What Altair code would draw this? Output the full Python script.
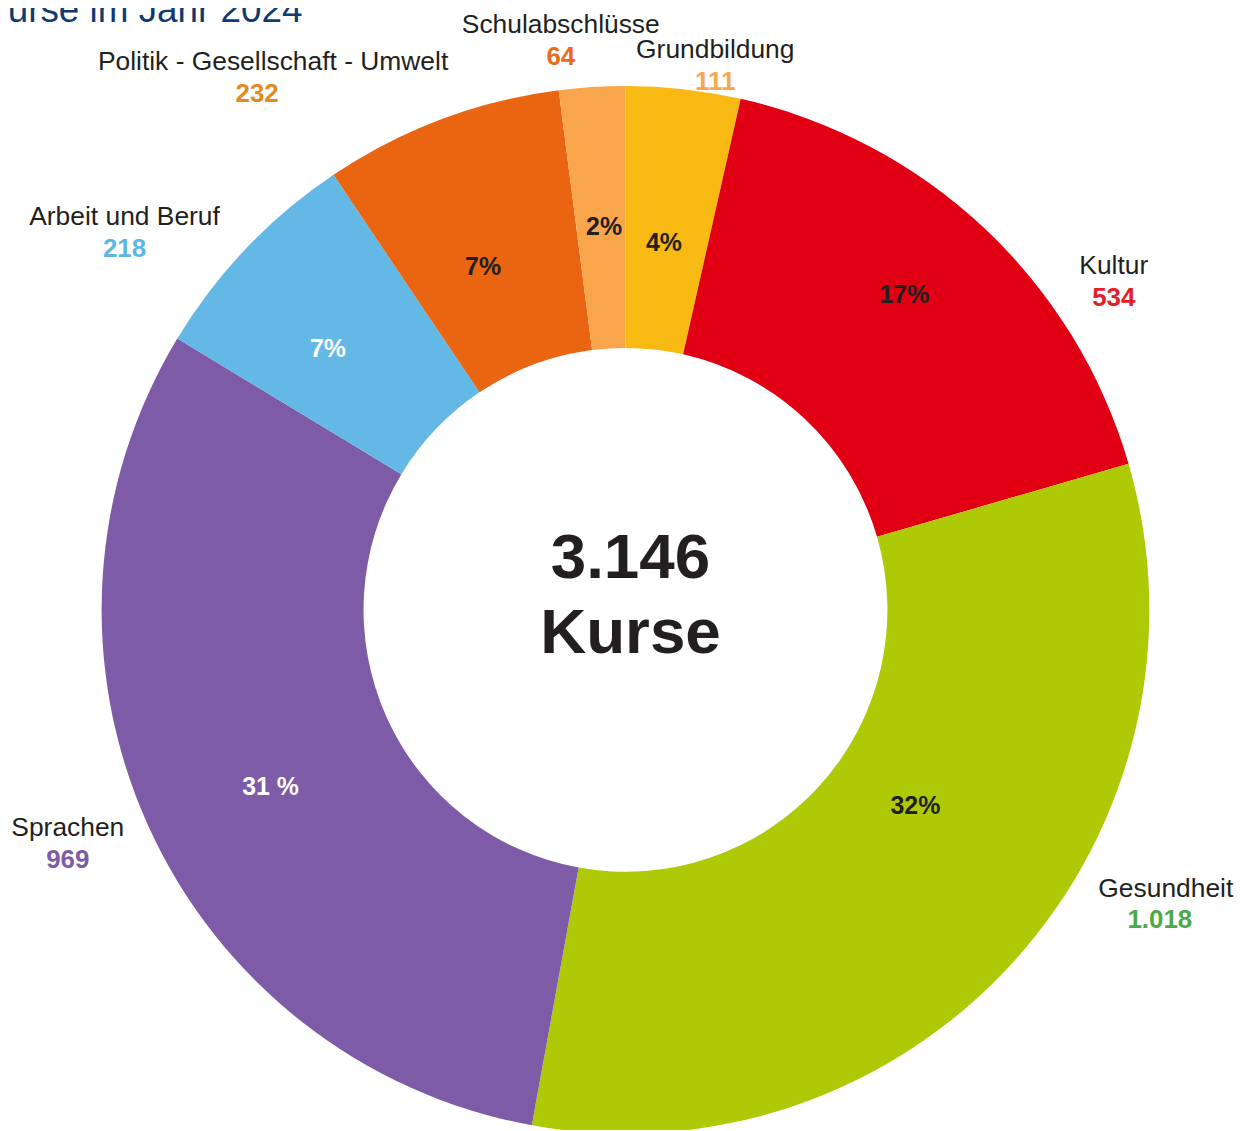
import altair as alt
import pandas as pd

# ---- data ----
CATEGORIES = ["Grundbildung", "Kultur", "Gesundheit", "Sprachen",
              "Arbeit und Beruf", "Politik - Gesellschaft - Umwelt", "Schulabschlüsse"]
COUNTS = [111, 534, 1018, 969, 218, 232, 64]
PCT_LABELS = ["4%", "17%", "32%", "31 %", "7%", "7%", "2%"]
TITLE = "Kurse im Jahr 2024"
CENTER_WORD = "Kurse"

# ---- styles ----
SLICE_COLORS = ["#F9B913", "#E10013", "#AEC905", "#7D5BA6", "#63B8E6", "#E96511", "#F9A54B"]
VALUE_COLORS = ["#F8A650", "#E3202A", "#4BA94A", "#7D5BA6", "#5EB6E4", "#E38B1E", "#EB6B1E"]
PCT_COLORS = ["#231F20", "#231F20", "#231F20", "#FFFFFF", "#FFFFFF", "#231F20", "#231F20"]

# ---- layout (label placement around the ring) ----
NAME_NUDGE = [2.75, 11.55, -14.85, 2.96, -5.46, -12.1, -2.64]   # degrees from slice mid-angle
NAME_R = [570, 600, 610, 601, 640, 655, 592]                      # px from centre
VALUE_DX = [0, 0, -6, 0, 0, -16, 0]
PCT_NUDGE = [-0.39, -1.8, -8.09, -2.17, -2.32, -1.88, 0.46]
PCT_R = [371, 423, 351, 398, 398, 374, 386]

W, H = 1100, 1040
PL, PT, PR, PB = 70, 82, 62, 0
CX, CY = W / 2, H / 2
R_OUT, R_IN = 526, 263
FONT = "Liberation Sans"

df = pd.DataFrame({
    "cat": CATEGORIES,
    "count": COUNTS,
    "order": list(range(len(CATEGORIES))),
    "pct": PCT_LABELS,
    "vcolor": VALUE_COLORS,
    "pcolor": PCT_COLORS,
    "name_nudge": NAME_NUDGE,
    "name_r": NAME_R,
    "value_dx": VALUE_DX,
    "pct_nudge": PCT_NUDGE,
    "pct_r": PCT_R,
})

total = sum(COUNTS)
total_str = f"{total:,}".replace(",", ".")

ring = alt.Chart(df).mark_arc(radius=R_OUT, radius2=R_IN).encode(
    theta=alt.Theta("count:Q", stack=True),
    color=alt.Color("cat:N", scale=alt.Scale(domain=CATEGORIES, range=SLICE_COLORS), legend=None),
    order=alt.Order("order:Q"),
)

base = alt.Chart(df).transform_joinaggregate(
    total="sum(count)"
).transform_window(
    cum="sum(count)", sort=[alt.SortField("order", order="ascending")]
).transform_calculate(
    mid="(datum.cum - datum.count / 2) / datum.total * 360",
).transform_calculate(
    na="(datum.mid + datum.name_nudge) * PI / 180",
    pa="(datum.mid + datum.pct_nudge) * PI / 180",
    vlabel="replace(format(datum.count, ','), ',', '.')",
).transform_calculate(
    lx=f"{CX} + datum.name_r * sin(datum.na)",
    ly=f"{CY} - datum.name_r * cos(datum.na)",
    px=f"{CX} + datum.pct_r * sin(datum.pa)",
    py=f"{CY} - datum.pct_r * cos(datum.pa)",
).transform_calculate(
    vx="datum.lx + datum.value_dx",
)

names = base.mark_text(font=FONT, fontSize=26.5, color="#231F20", align="center",
                       baseline="alphabetic", dy=9).encode(
    x=alt.X("lx:Q", scale=None, axis=None),
    y=alt.Y("ly:Q", scale=None, axis=None),
    text="cat:N",
)

values = base.mark_text(font=FONT, fontSize=26, fontWeight="bold", align="center",
                        baseline="alphabetic", dy=41).encode(
    x=alt.X("vx:Q", scale=None, axis=None),
    y=alt.Y("ly:Q", scale=None, axis=None),
    text="vlabel:N",
    color=alt.Color("vcolor:N", scale=None),
)

pcts = base.mark_text(font=FONT, fontSize=25, fontWeight="bold", align="center",
                      baseline="alphabetic", dy=9).encode(
    x=alt.X("px:Q", scale=None, axis=None),
    y=alt.Y("py:Q", scale=None, axis=None),
    text="pct:N",
    color=alt.Color("pcolor:N", scale=None),
)

center_df = pd.DataFrame({"line": [total_str, CENTER_WORD], "dy": [-32, 43]})
center = alt.Chart(center_df).mark_text(font=FONT, fontSize=64, fontWeight="bold",
                                        color="#231F20", align="center",
                                        baseline="alphabetic").encode(
    x=alt.value(CX + 5),
    y=alt.Y("ypos:Q", scale=None, axis=None),
    text="line:N",
).transform_calculate(ypos=f"{CY} + datum.dy")

title_df = pd.DataFrame({"t": [TITLE]})
title = alt.Chart(title_df).mark_text(font=FONT, fontSize=37, color="#0F3B6F",
                                      align="left", baseline="alphabetic").encode(
    x=alt.value(-PL - 25),
    y=alt.value(-PT + 12),
    text="t:N",
)

chart = alt.layer(ring, pcts, names, values, center, title).properties(
    width=W, height=H,
    autosize=alt.AutoSizeParams(type="none"),
    padding={"left": PL, "top": PT, "right": PR, "bottom": PB},
    background="white",
).configure_view(stroke=None)

chart.save("out.html", embed_options={"renderer": "svg", "actions": False})
